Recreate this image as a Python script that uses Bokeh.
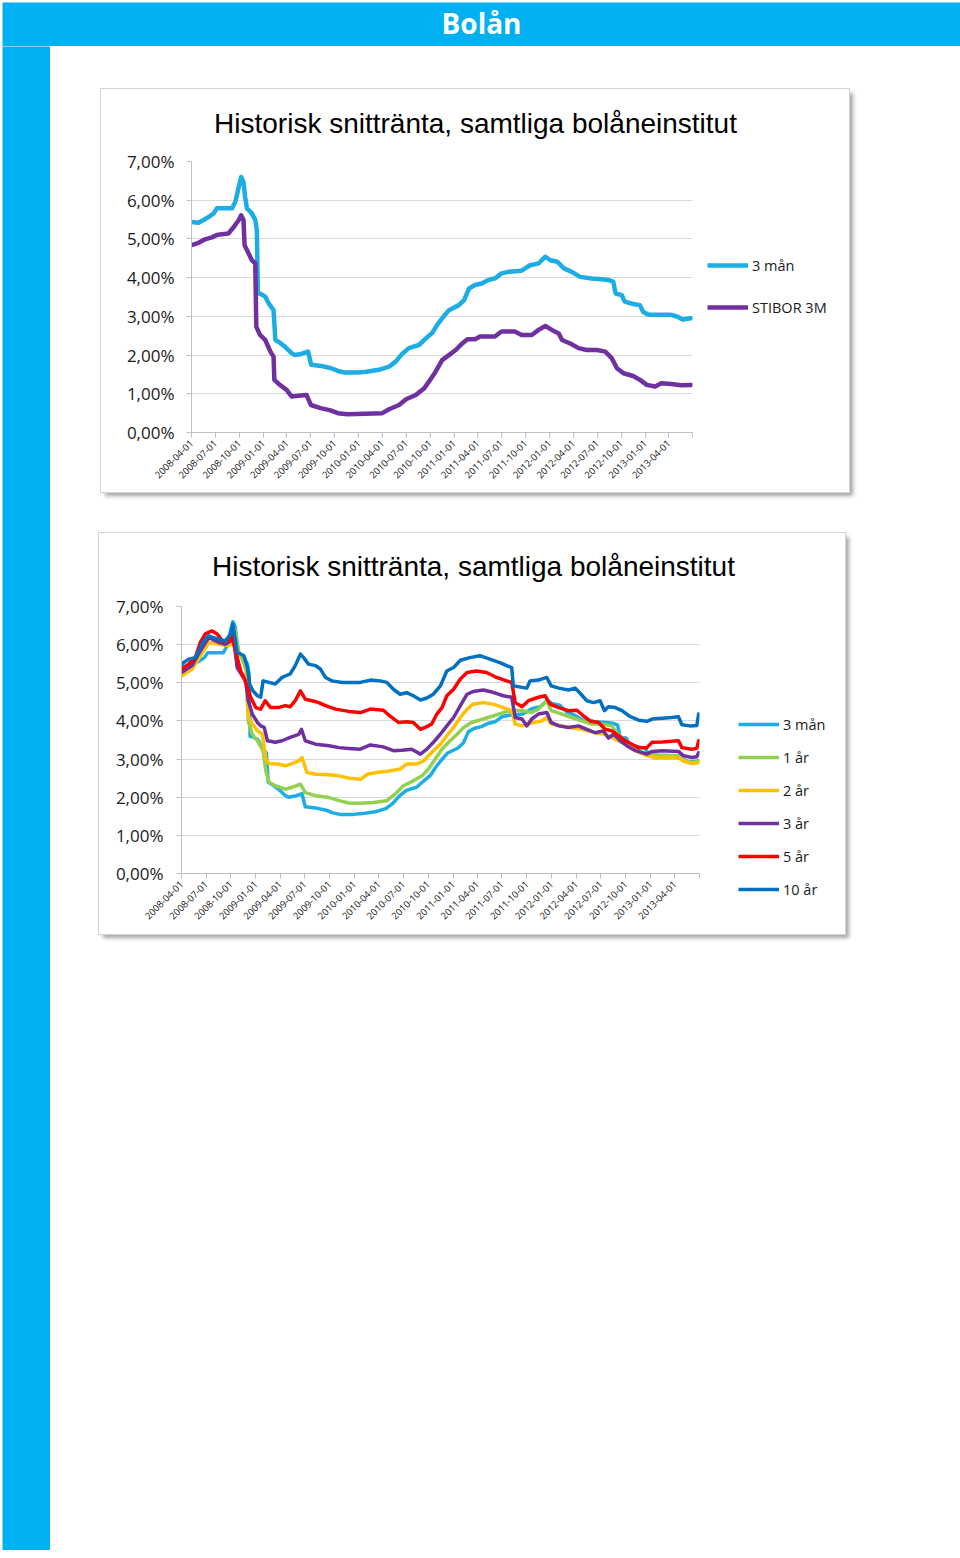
import calendar
import datetime as dt
from math import pi

from bokeh.plotting import figure
from bokeh.layouts import column, row
from bokeh.models import (Range1d, FixedTicker, DatetimeTickFormatter, Label,
                          Legend, LegendItem, Spacer)
from bokeh.embed import file_html
from bokeh.resources import INLINE

# ---------------- texts ----------------
page_title = "Bolån"
chart_title = "Historisk snittränta, samtliga bolåneinstitut"

x_tick_dates = ["2008-04-01", "2008-07-01", "2008-10-01", "2009-01-01", "2009-04-01",
                "2009-07-01", "2009-10-01", "2010-01-01", "2010-04-01", "2010-07-01",
                "2010-10-01", "2011-01-01", "2011-04-01", "2011-07-01", "2011-10-01",
                "2012-01-01", "2012-04-01", "2012-07-01", "2012-10-01", "2013-01-01",
                "2013-04-01"]
x_start = "2008-04-01"
x_end = "2013-07-01"
y_tick_values = [0, 1, 2, 3, 4, 5, 6, 7]
y_tick_labels = ["0,00%", "1,00%", "2,00%", "3,00%", "4,00%", "5,00%", "6,00%", "7,00%"]

# ---------------- data (percent) ----------------
tre_man_dates = ["2008-04-01", "2008-04-28", "2008-05-17", "2008-06-06", "2008-06-25", "2008-07-07",
                 "2008-09-03", "2008-09-16", "2008-09-29", "2008-10-08", "2008-10-17", "2008-10-23",
                 "2008-10-30", "2008-11-18", "2008-12-01", "2008-12-07", "2008-12-11", "2008-12-19",
                 "2009-01-08", "2009-01-21", "2009-02-09", "2009-02-16", "2009-03-05", "2009-03-24",
                 "2009-04-19", "2009-05-01", "2009-05-26", "2009-06-21", "2009-07-03", "2009-08-10",
                 "2009-09-18", "2009-10-13", "2009-11-08", "2009-12-28", "2010-01-30", "2010-03-19",
                 "2010-04-27", "2010-05-22", "2010-06-16", "2010-07-12", "2010-08-19", "2010-09-15",
                 "2010-10-10", "2010-10-28", "2010-11-16", "2010-12-12", "2011-01-19", "2011-02-08",
                 "2011-02-27", "2011-03-22", "2011-04-16", "2011-05-12", "2011-06-06", "2011-07-01",
                 "2011-07-27", "2011-09-16", "2011-10-19", "2011-11-20", "2011-12-16", "2012-01-04",
                 "2012-01-31", "2012-02-25", "2012-03-26", "2012-04-27", "2012-06-10", "2012-07-18",
                 "2012-08-13", "2012-09-01", "2012-09-10", "2012-10-03", "2012-10-15", "2012-11-16",
                 "2012-12-12", "2012-12-24", "2013-01-13", "2013-04-10", "2013-05-05", "2013-05-24",
                 "2013-06-25"]
tre_man = [5.44, 5.42, 5.49, 5.57, 5.66, 5.79,
           5.79, 5.96, 6.35, 6.60, 6.47, 6.09,
           5.79, 5.66, 5.49, 5.23, 3.59, 3.59,
           3.51, 3.34, 3.16, 2.39, 2.32, 2.22,
           2.05, 2.00, 2.03, 2.09, 1.75, 1.72,
           1.66, 1.59, 1.55, 1.55, 1.57, 1.62,
           1.70, 1.83, 2.03, 2.18, 2.26, 2.43,
           2.58, 2.78, 2.95, 3.16, 3.29, 3.42,
           3.72, 3.81, 3.85, 3.94, 3.98, 4.11,
           4.15, 4.18, 4.32, 4.37, 4.54, 4.45,
           4.41, 4.24, 4.15, 4.02, 3.98, 3.96,
           3.94, 3.89, 3.59, 3.55, 3.38, 3.32,
           3.29, 3.12, 3.04, 3.04, 2.99, 2.92,
           2.95]

stibor_dates = ["2008-04-01", "2008-04-28", "2008-05-23", "2008-06-18", "2008-07-07", "2008-07-26",
                "2008-08-20", "2008-09-09", "2008-09-29", "2008-10-08", "2008-10-17", "2008-10-21",
                "2008-11-05", "2008-11-18", "2008-12-01", "2008-12-05", "2008-12-19", "2009-01-08",
                "2009-01-28", "2009-02-09", "2009-02-12", "2009-03-05", "2009-03-31", "2009-04-19",
                "2009-05-15", "2009-06-15", "2009-07-02", "2009-08-08", "2009-09-15", "2009-10-13",
                "2009-11-20", "2010-04-01", "2010-04-27", "2010-06-04", "2010-07-01", "2010-08-07",
                "2010-09-08", "2010-09-27", "2010-10-22", "2010-11-16", "2010-12-12", "2011-01-07",
                "2011-02-01", "2011-02-21", "2011-03-22", "2011-04-10", "2011-06-06", "2011-07-01",
                "2011-08-21", "2011-09-16", "2011-10-25", "2011-11-20", "2011-12-16", "2012-01-10",
                "2012-02-05", "2012-02-18", "2012-03-20", "2012-04-21", "2012-05-22", "2012-07-01",
                "2012-08-01", "2012-08-26", "2012-09-15", "2012-10-10", "2012-11-16", "2012-12-12",
                "2013-01-07", "2013-02-08", "2013-03-04", "2013-04-10", "2013-05-18", "2013-06-25"]
stibor = [4.84, 4.90, 4.99, 5.04, 5.10, 5.12,
          5.14, 5.30, 5.49, 5.61, 5.49, 4.84,
          4.63, 4.45, 4.37, 2.73, 2.52, 2.39,
          2.09, 1.96, 1.36, 1.23, 1.10, 0.93,
          0.95, 0.97, 0.71, 0.63, 0.57, 0.50,
          0.47, 0.50, 0.60, 0.71, 0.86, 0.97,
          1.14, 1.32, 1.57, 1.87, 2.00, 2.13,
          2.30, 2.41, 2.41, 2.48, 2.48, 2.61,
          2.61, 2.52, 2.52, 2.65, 2.75, 2.65,
          2.56, 2.39, 2.30, 2.18, 2.13, 2.13,
          2.09, 1.92, 1.66, 1.53, 1.46, 1.36,
          1.23, 1.19, 1.27, 1.25, 1.22, 1.23]

ett_ar_dates = ["2008-04-01", "2008-05-10", "2008-06-10", "2008-07-11", "2008-08-30", "2008-09-30",
                "2008-10-16", "2008-10-28", "2008-11-12", "2008-11-27", "2008-12-04", "2008-12-19",
                "2009-01-07", "2009-01-28", "2009-02-07", "2009-02-19", "2009-03-14", "2009-04-20",
                "2009-05-15", "2009-06-15", "2009-07-03", "2009-08-10", "2009-09-29", "2009-11-05",
                "2009-12-11", "2010-01-23", "2010-03-12", "2010-05-01", "2010-05-31", "2010-07-01",
                "2010-08-07", "2010-09-08", "2010-10-02", "2010-10-27", "2010-11-21", "2010-12-21",
                "2011-01-16", "2011-02-09", "2011-03-10", "2011-04-23", "2011-05-29", "2011-07-06",
                "2011-08-12", "2011-09-13", "2011-10-19", "2011-11-13", "2011-12-14", "2011-12-30",
                "2012-02-08", "2012-03-15", "2012-04-22", "2012-05-28", "2012-07-04", "2012-08-11",
                "2012-08-29", "2012-09-29", "2012-11-06", "2012-12-18", "2013-02-01", "2013-04-14",
                "2013-05-02", "2013-06-02", "2013-06-28"]
ett_ar = [5.23, 5.36, 5.75, 6.06, 6.01, 6.06,
          6.41, 5.84, 5.62, 5.31, 4.00, 3.65,
          3.48, 3.22, 2.69, 2.39, 2.30, 2.21,
          2.26, 2.34, 2.12, 2.04, 1.99, 1.91,
          1.85, 1.84, 1.86, 1.91, 2.08, 2.30,
          2.43, 2.56, 2.74, 3.00, 3.26, 3.48,
          3.65, 3.83, 3.96, 4.05, 4.13, 4.22,
          4.28, 4.27, 4.22, 4.31, 4.53, 4.27,
          4.18, 4.09, 4.00, 3.92, 3.92, 3.87,
          3.69, 3.48, 3.26, 3.13, 3.11, 3.09,
          2.97, 2.91, 2.94]

tva_ar_dates = ["2008-04-01", "2008-05-10", "2008-06-10", "2008-07-11", "2008-08-17", "2008-09-23",
                "2008-10-12", "2008-10-24", "2008-11-12", "2008-11-27", "2008-12-04", "2008-12-19",
                "2009-01-07", "2009-01-25", "2009-02-07", "2009-02-19", "2009-03-26", "2009-04-20",
                "2009-05-15", "2009-06-09", "2009-06-21", "2009-07-09", "2009-08-10", "2009-09-29",
                "2009-11-05", "2009-12-11", "2010-01-23", "2010-02-17", "2010-03-24", "2010-05-12",
                "2010-06-19", "2010-07-13", "2010-08-20", "2010-09-14", "2010-10-08", "2010-11-15",
                "2010-12-09", "2011-01-03", "2011-01-28", "2011-02-22", "2011-03-16", "2011-04-23",
                "2011-05-29", "2011-07-06", "2011-08-06", "2011-08-19", "2011-09-13", "2011-10-01",
                "2011-10-25", "2011-11-25", "2011-12-14", "2011-12-30", "2012-02-08", "2012-03-09",
                "2012-04-22", "2012-06-10", "2012-07-17", "2012-08-23", "2012-09-29", "2012-11-06",
                "2012-12-18", "2013-01-19", "2013-04-14", "2013-05-02", "2013-06-02", "2013-06-28"]
tva_ar = [5.18, 5.36, 5.71, 6.06, 6.01, 5.97,
          6.10, 5.49, 5.23, 5.10, 4.13, 3.92,
          3.74, 3.65, 3.00, 2.88, 2.87, 2.82,
          2.88, 2.95, 3.04, 2.65, 2.60, 2.59,
          2.56, 2.50, 2.47, 2.60, 2.65, 2.69,
          2.74, 2.87, 2.87, 2.95, 3.13, 3.39,
          3.61, 3.83, 4.09, 4.31, 4.44, 4.48,
          4.44, 4.35, 4.27, 3.92, 3.87, 3.92,
          3.96, 4.00, 4.09, 3.92, 3.87, 3.83,
          3.78, 3.69, 3.65, 3.52, 3.39, 3.22,
          3.09, 3.04, 3.04, 2.95, 2.88, 2.91]

tre_ar_dates = ["2008-04-01", "2008-05-10", "2008-06-10", "2008-07-11", "2008-08-17", "2008-09-11",
                "2008-09-30", "2008-10-12", "2008-10-24", "2008-11-12", "2008-11-24", "2008-12-04",
                "2008-12-19", "2009-01-07", "2009-01-19", "2009-02-01", "2009-02-13", "2009-03-14",
                "2009-04-08", "2009-05-08", "2009-06-09", "2009-06-19", "2009-07-03", "2009-08-10",
                "2009-09-29", "2009-11-05", "2009-12-11", "2010-01-23", "2010-03-01", "2010-04-18",
                "2010-05-25", "2010-06-25", "2010-08-01", "2010-09-02", "2010-09-26", "2010-10-20",
                "2010-11-15", "2010-12-09", "2011-01-03", "2011-01-28", "2011-02-22", "2011-03-16",
                "2011-04-23", "2011-05-29", "2011-07-06", "2011-08-06", "2011-08-19", "2011-09-13",
                "2011-10-01", "2011-10-19", "2011-11-13", "2011-12-14", "2011-12-30", "2012-01-27",
                "2012-03-03", "2012-04-09", "2012-05-10", "2012-06-10", "2012-07-10", "2012-07-29",
                "2012-08-17", "2012-09-11", "2012-10-05", "2012-11-06", "2012-12-18", "2013-01-07",
                "2013-02-13", "2013-04-14", "2013-05-02", "2013-06-02", "2013-06-21", "2013-06-28"]
tre_ar = [5.27, 5.45, 5.84, 6.19, 6.06, 6.01,
          6.10, 6.10, 5.40, 5.18, 5.05, 4.53,
          4.18, 3.96, 3.87, 3.83, 3.48, 3.44,
          3.48, 3.57, 3.65, 3.78, 3.48, 3.39,
          3.35, 3.30, 3.28, 3.26, 3.37, 3.32,
          3.22, 3.23, 3.26, 3.13, 3.26, 3.44,
          3.65, 3.87, 4.09, 4.40, 4.70, 4.77,
          4.81, 4.75, 4.66, 4.62, 4.09, 4.05,
          3.87, 4.05, 4.18, 4.22, 3.96, 3.87,
          3.83, 3.87, 3.78, 3.69, 3.74, 3.55,
          3.65, 3.48, 3.35, 3.22, 3.13, 3.20,
          3.22, 3.20, 3.09, 3.04, 3.06, 3.17]

fem_ar_dates = ["2008-04-01", "2008-04-28", "2008-05-22", "2008-06-10", "2008-06-28", "2008-07-23",
                "2008-08-11", "2008-08-30", "2008-09-23", "2008-10-03", "2008-10-18", "2008-11-06",
                "2008-11-18", "2008-12-01", "2008-12-13", "2009-01-01", "2009-01-19", "2009-02-05",
                "2009-02-25", "2009-03-26", "2009-04-20", "2009-05-08", "2009-05-27", "2009-06-15",
                "2009-07-03", "2009-07-28", "2009-08-22", "2009-09-16", "2009-10-23", "2009-12-11",
                "2010-01-23", "2010-03-01", "2010-04-18", "2010-05-12", "2010-06-13", "2010-07-13",
                "2010-08-07", "2010-09-02", "2010-09-26", "2010-10-14", "2010-11-02", "2010-11-21",
                "2010-12-09", "2011-01-03", "2011-01-28", "2011-02-22", "2011-03-29", "2011-05-05",
                "2011-06-11", "2011-07-18", "2011-08-06", "2011-08-19", "2011-09-13", "2011-10-07",
                "2011-11-13", "2011-12-08", "2011-12-26", "2012-01-27", "2012-03-03", "2012-04-03",
                "2012-04-28", "2012-05-22", "2012-06-22", "2012-07-17", "2012-08-11", "2012-09-05",
                "2012-09-29", "2012-10-24", "2012-11-18", "2012-12-18", "2013-01-07", "2013-02-13",
                "2013-04-14", "2013-04-27", "2013-06-02", "2013-06-21", "2013-06-28"]
fem_ar = [5.36, 5.49, 5.66, 6.06, 6.28, 6.36,
          6.28, 6.10, 6.10, 6.23, 5.84, 5.31,
          5.14, 4.88, 4.62, 4.35, 4.31, 4.53,
          4.35, 4.35, 4.40, 4.37, 4.53, 4.79,
          4.57, 4.53, 4.48, 4.40, 4.31, 4.25,
          4.22, 4.31, 4.28, 4.13, 3.96, 3.98,
          3.96, 3.78, 3.85, 3.92, 4.18, 4.35,
          4.66, 4.83, 5.10, 5.27, 5.31, 5.27,
          5.14, 5.05, 5.01, 4.48, 4.37, 4.53,
          4.62, 4.66, 4.44, 4.35, 4.27, 4.28,
          4.13, 4.00, 3.96, 3.78, 3.74, 3.61,
          3.48, 3.39, 3.30, 3.30, 3.44, 3.45,
          3.48, 3.30, 3.26, 3.28, 3.48]

tio_ar_dates = ["2008-04-01", "2008-04-28", "2008-05-22", "2008-06-04", "2008-06-22", "2008-07-11",
                "2008-08-11", "2008-09-11", "2008-09-30", "2008-10-08", "2008-10-24", "2008-11-18",
                "2008-12-01", "2008-12-09", "2008-12-21", "2009-01-07", "2009-01-19", "2009-01-28",
                "2009-02-19", "2009-03-14", "2009-04-08", "2009-05-08", "2009-05-27", "2009-06-15",
                "2009-06-27", "2009-07-15", "2009-08-10", "2009-08-28", "2009-09-16", "2009-10-10",
                "2009-11-17", "2009-12-16", "2010-01-23", "2010-03-01", "2010-04-06", "2010-05-01",
                "2010-05-25", "2010-06-19", "2010-07-13", "2010-08-07", "2010-09-02", "2010-09-26",
                "2010-10-20", "2010-11-15", "2010-12-09", "2011-01-03", "2011-01-28", "2011-03-04",
                "2011-04-10", "2011-05-17", "2011-06-23", "2011-07-18", "2011-08-06", "2011-08-12",
                "2011-09-13", "2011-10-01", "2011-10-13", "2011-11-13", "2011-12-14", "2011-12-30",
                "2012-01-27", "2012-03-03", "2012-03-28", "2012-04-16", "2012-05-10", "2012-06-04",
                "2012-06-28", "2012-07-14", "2012-07-29", "2012-08-23", "2012-09-17", "2012-10-18",
                "2012-11-18", "2012-12-18", "2013-01-07", "2013-02-13", "2013-03-20", "2013-04-14",
                "2013-04-27", "2013-05-27", "2013-06-21", "2013-06-28"]
tio_ar = [5.49, 5.62, 5.66, 5.84, 6.10, 6.23,
          6.15, 6.10, 6.28, 6.54, 5.80, 5.71,
          5.40, 4.97, 4.79, 4.66, 4.62, 5.05,
          5.01, 4.97, 5.14, 5.23, 5.45, 5.75,
          5.66, 5.49, 5.45, 5.36, 5.14, 5.05,
          5.01, 5.01, 5.01, 5.07, 5.05, 5.01,
          4.83, 4.70, 4.74, 4.66, 4.55, 4.60,
          4.70, 4.92, 5.31, 5.40, 5.59, 5.66,
          5.71, 5.62, 5.53, 5.45, 5.40, 4.92,
          4.88, 4.86, 5.05, 5.07, 5.14, 4.92,
          4.86, 4.81, 4.86, 4.72, 4.53, 4.48,
          4.53, 4.27, 4.37, 4.35, 4.27, 4.11,
          4.02, 3.99, 4.05, 4.07, 4.09, 4.11,
          3.90, 3.87, 3.88, 4.18]

# ---------------- helpers ----------------
BLUE = "#00B0F0"
SHADOW = {"box-shadow": "0 0 0 1px #d4d4d4, 4px 4px 4px rgba(0,0,0,0.35)"}


def d(s):
    return dt.datetime.strptime(s, "%Y-%m-%d")


def ms(s):
    return calendar.timegm(d(s).timetuple()) * 1000.0


def blank(width, height, color):
    f = figure(width=width, height=height, x_range=Range1d(0, width), y_range=Range1d(0, height),
               output_backend="svg", toolbar_location=None, title=None,
               x_axis_location=None, y_axis_location=None, min_border=0)
    f.grid.visible = False
    f.background_fill_color = color
    f.border_fill_color = color
    f.outline_line_color = None
    return f


def make_plot(width, height, left, right, top, bottom, series, line_width, y_standoff):
    p = figure(width=width, height=height, x_axis_type="datetime", title=None,
               x_range=Range1d(d(x_start), d(x_end)), y_range=Range1d(0, 7),
               output_backend="svg", toolbar_location=None,
               min_border_left=left, min_border_right=right,
               min_border_top=top, min_border_bottom=bottom)
    p.background_fill_color = "white"
    p.border_fill_color = "white"
    p.outline_line_color = None

    p.xgrid.visible = False
    p.ygrid.ticker = FixedTicker(ticks=y_tick_values)
    p.ygrid.grid_line_color = "#d9d9d9"
    p.ygrid.grid_line_width = 1

    ya = p.yaxis[0]
    ya.ticker = FixedTicker(ticks=y_tick_values)
    ya.major_label_overrides = {v: t for v, t in zip(y_tick_values, y_tick_labels)}
    ya.axis_line_color = "#bfbfbf"
    ya.major_tick_line_color = "#bfbfbf"
    ya.major_tick_in = 0
    ya.major_tick_out = 5
    ya.minor_tick_line_color = None
    ya.major_label_text_font = "Open Sans"
    ya.major_label_text_font_size = "17px"
    ya.major_label_text_color = "#1a1a1a"
    ya.major_label_standoff = y_standoff

    xa = p.xaxis[0]
    xa.ticker = FixedTicker(ticks=[ms(t) for t in x_tick_dates], minor_ticks=[ms(x_end)])
    fmt = "%Y-%m-%d"
    xa.formatter = DatetimeTickFormatter(microseconds=fmt, milliseconds=fmt, seconds=fmt,
                                         minsec=fmt, minutes=fmt, hourmin=fmt, hours=fmt,
                                         days=fmt, months=fmt, years=fmt)
    xa.major_label_orientation = pi / 4
    xa.axis_line_color = "#bfbfbf"
    xa.major_tick_line_color = "#bfbfbf"
    xa.minor_tick_line_color = "#bfbfbf"
    xa.major_tick_in = 0
    xa.major_tick_out = 5
    xa.minor_tick_in = 0
    xa.minor_tick_out = 5
    xa.major_label_text_font = "Open Sans"
    xa.major_label_text_font_size = "9.5px"
    xa.major_label_text_color = "#1a1a1a"
    xa.major_label_standoff = 4

    for name, dates, vals, color in series:
        p.line(x=[d(s) for s in dates], y=vals, line_width=line_width, line_color=color,
               line_join="round", line_cap="round")
    return p


def make_legend(width, height, series, line_width, pos, spacing):
    # separate legend canvas; its renderers carry the series but lie far outside its view
    lf = blank(width, height, "white")
    items = []
    for name, dates, vals, color in series:
        r = lf.line(x=[ms(s) for s in dates], y=vals, line_width=line_width, line_color=color)
        items.append(LegendItem(label=name, renderers=[r]))
    legend = Legend(items=items, location=pos, orientation="vertical",
                    padding=0, margin=0, spacing=spacing,
                    glyph_width=41, glyph_height=20, label_height=20, label_standoff=4,
                    border_line_color=None, background_fill_alpha=0,
                    label_text_font="Open Sans", label_text_font_size="14.5px",
                    label_text_color="#1a1a1a")
    lf.add_layout(legend)
    return column(lf)


def make_title(width, height, x, y):
    tf = blank(width, height, "white")
    tf.add_layout(Label(x=x, y=y, text=chart_title, text_font="Liberation Sans",
                        text_font_size="28px", text_color="#000000",
                        text_align="center", text_baseline="middle"))
    return tf


# ---------------- build ----------------
header = blank(958, 44, BLUE)
header.add_layout(Label(x=479, y=23.5, text=page_title,
                        text_font="Open Sans", text_font_size="28px", text_font_style="bold",
                        text_color="white", text_align="center", text_baseline="middle"))
leftbar = blank(48, 1504, BLUE)

series1 = [("3 mån", tre_man_dates, tre_man, "#1CADE4"),
           ("STIBOR 3M", stibor_dates, stibor, "#7030A0")]
series2 = [("3 mån", tre_man_dates, tre_man, "#1CADE4"),
           ("1 år", ett_ar_dates, ett_ar, "#92D050"),
           ("2 år", tva_ar_dates, tva_ar, "#FFC000"),
           ("3 år", tre_ar_dates, tre_ar, "#7030A0"),
           ("5 år", fem_ar_dates, fem_ar, "#FF0000"),
           ("10 år", tio_ar_dates, tio_ar, "#0070C0")]

box1 = column(make_title(748, 58, 374, 24.5),
              row(make_plot(599, 345, 90, 8, 14, 60, series1, 4.5, 12),
                  make_legend(149, 345, series1, 4.5, (7, 175), 22)))
box1.styles = SHADOW

box2 = column(make_title(746, 59, 374, 26.1),
              row(make_plot(608, 342, 82, 8, 14, 61, series2, 3.5, 13),
                  make_legend(138, 342, series2, 3.5, (31, 35), 13)))
box2.styles = SHADOW

content = column(Spacer(height=43),
                 row(Spacer(width=51), box1),
                 Spacer(height=41),
                 row(Spacer(width=49), box2))
layout = column(Spacer(height=2),
                row(Spacer(width=2), header),
                row(Spacer(width=2), leftbar, content))

open("out.html", "w").write(file_html(layout, INLINE, title="Bolån"))
